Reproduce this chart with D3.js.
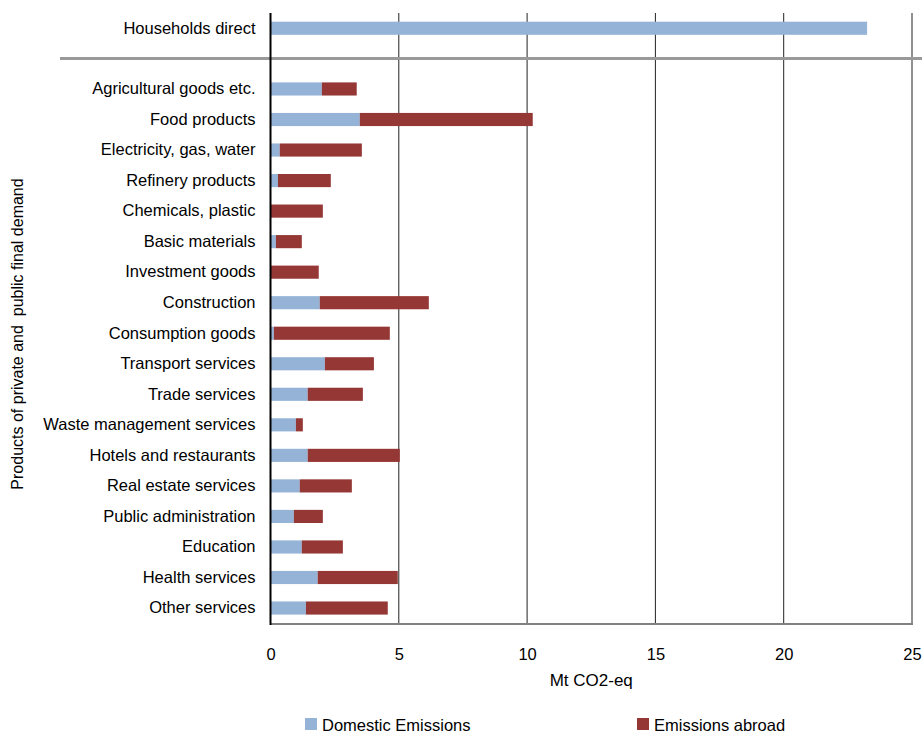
<!DOCTYPE html>
<meta charset="utf-8">
<style>
body { margin: 0; background: #fff; }
svg { font-family: "Liberation Sans", Arial, sans-serif; }
.tick text { font-size: 16.5px; fill: #000; }
.grid line { stroke: #222; stroke-width: 1; }
</style>
<svg width="922" height="736"></svg>
<script src="https://cdn.jsdelivr.net/npm/d3@7/dist/d3.min.js"></script>
<script>

var topCats = ["Households direct"],
    topDomestic = [23.25],
    topAbroad = [0];

var categories = ["Agricultural goods etc.", "Food products", "Electricity, gas, water",
  "Refinery products", "Chemicals, plastic", "Basic materials", "Investment goods",
  "Construction", "Consumption goods", "Transport services", "Trade services",
  "Waste management services", "Hotels and restaurants", "Real estate services",
  "Public administration", "Education", "Health services", "Other services"];

var domestic = [2.0, 3.48, 0.36, 0.29, 0.02, 0.21, 0.02, 1.92, 0.13, 2.12, 1.45,
  0.99, 1.45, 1.14, 0.91, 1.22, 1.84, 1.38];

var abroad = [1.36, 6.74, 3.2, 2.06, 2.02, 1.01, 1.86, 4.25, 4.52, 1.91, 2.15,
  0.27, 3.59, 2.03, 1.13, 1.6, 3.12, 3.19];

var xTicks = [0, 5, 10, 15, 20, 25];

var seriesNames = ["Domestic Emissions", "Emissions abroad"],
    colors = ["#95b3d7", "#953735"];

var svg = d3.select("svg");

var x = d3.scaleLinear()
    .domain([0, 25])
    .range([270.5, 912]);

var yTop = d3.scaleBand()
    .domain(topCats)
    .range([13, 43.5])
    .paddingInner(0.57)
    .paddingOuter(0.285);

var y = d3.scaleBand()
    .domain(categories)
    .range([73.7, 623.3])
    .paddingInner(0.57)
    .paddingOuter(0.285);

var plotTop = 13, plotBottom = 624;

// gridlines
svg.append("g")
    .attr("class", "grid")
  .selectAll("line")
    .data(xTicks.slice(1))
  .enter().append("line")
    .attr("x1", function(d) { return x(d); })
    .attr("x2", function(d) { return x(d); })
    .attr("y1", plotTop)
    .attr("y2", plotBottom);

// bottom axis line
svg.append("line")
    .attr("x1", x(0))
    .attr("x2", x(25) + 1)
    .attr("y1", plotBottom)
    .attr("y2", plotBottom)
    .attr("stroke", "#808080")
    .attr("stroke-width", 2);

function drawBars(scale, cats, dom, abr) {
  var rows = cats.map(function(c, i) { return { cat: c, d: dom[i], a: abr[i] }; });
  var g = svg.append("g");
  g.selectAll("rect.dom")
      .data(rows)
    .enter().append("rect")
      .attr("x", x(0))
      .attr("y", function(d) { return scale(d.cat); })
      .attr("width", function(d) { return x(d.d) - x(0); })
      .attr("height", scale.bandwidth())
      .attr("fill", colors[0]);
  g.selectAll("rect.abr")
      .data(rows.filter(function(d) { return d.a > 0; }))
    .enter().append("rect")
      .attr("x", function(d) { return x(d.d); })
      .attr("y", function(d) { return scale(d.cat); })
      .attr("width", function(d) { return x(d.d + d.a) - x(d.d); })
      .attr("height", scale.bandwidth())
      .attr("fill", colors[1]);
}

drawBars(yTop, topCats, topDomestic, topAbroad);
drawBars(y, categories, domestic, abroad);

// separator between households and products
svg.append("line")
    .attr("x1", 60)
    .attr("x2", 922)
    .attr("y1", 58.5)
    .attr("y2", 58.5)
    .attr("stroke", "#999")
    .attr("stroke-width", 3);

// zero line
svg.append("line")
    .attr("x1", x(0))
    .attr("x2", x(0))
    .attr("y1", plotTop)
    .attr("y2", plotBottom + 1)
    .attr("stroke", "#000")
    .attr("stroke-width", 2);

// category labels
svg.append("g")
    .attr("transform", "translate(" + x(0) + ",0)")
    .call(d3.axisLeft(yTop).tickSize(0).tickPadding(15))
    .call(function(g) { g.select(".domain").remove(); });

svg.append("g")
    .attr("transform", "translate(" + x(0) + ",0)")
    .call(d3.axisLeft(y).tickSize(0).tickPadding(15))
    .call(function(g) { g.select(".domain").remove(); });

// x axis labels
svg.append("g")
    .attr("transform", "translate(0," + plotBottom + ")")
    .call(d3.axisBottom(x).tickValues(xTicks).tickFormat(d3.format("d")).tickSize(0).tickPadding(24))
    .call(function(g) { g.select(".domain").remove(); });

svg.append("text")
    .attr("x", (x(0) + x(25)) / 2)
    .attr("y", 686)
    .attr("text-anchor", "middle")
    .attr("font-size", 17)
    .text("Mt CO2-eq");

svg.append("text")
    .attr("transform", "translate(23,334) rotate(-90)")
    .attr("text-anchor", "middle")
    .attr("font-size", 16)
    .style("white-space", "pre")
    .text("Products of private and  public final demand");

// legend
var legend = svg.append("g")
  .selectAll("g")
    .data(seriesNames)
  .enter().append("g")
    .attr("transform", function(d, i) { return "translate(" + [305, 637][i] + ",718)"; });

legend.append("rect")
    .attr("width", 12)
    .attr("height", 12)
    .attr("fill", function(d, i) { return colors[i]; });

legend.append("text")
    .attr("x", 17)
    .attr("y", 12.5)
    .attr("font-size", 16.5)
    .text(function(d) { return d; });

</script>
